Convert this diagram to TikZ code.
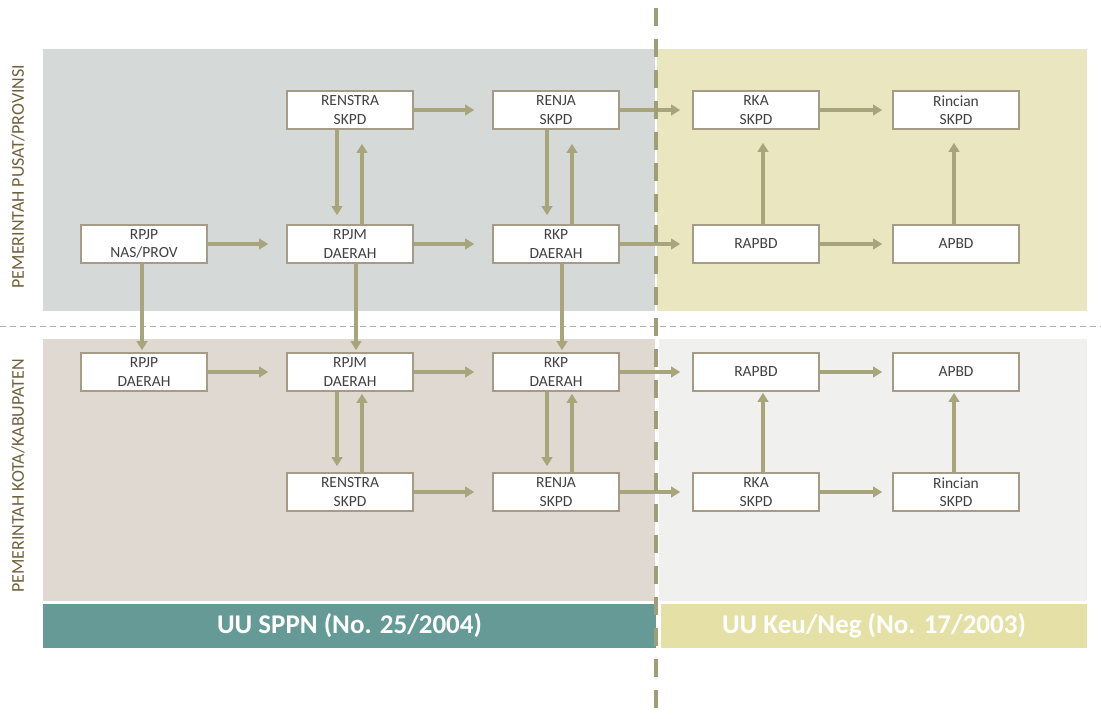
\documentclass[tikz,border=0pt]{standalone}
\usepackage{fontspec}
\setmainfont{Carlito}
\usetikzlibrary{arrows.meta}
\definecolor{panelTL}{RGB}{213,217,216}
\definecolor{panelTR}{RGB}{234,230,192}
\definecolor{panelBL}{RGB}{223,217,210}
\definecolor{panelBR}{RGB}{240,240,239}
\definecolor{barTeal}{RGB}{101,154,150}
\definecolor{barYel}{RGB}{229,225,166}
\definecolor{boxc}{RGB}{165,155,135}
\definecolor{arrc}{RGB}{168,165,125}
\definecolor{dashc}{RGB}{160,158,120}
\definecolor{txtc}{RGB}{65,65,65}
\definecolor{labc}{RGB}{112,96,60}
\definecolor{hdash}{RGB}{175,175,175}
\begin{document}
\begin{tikzpicture}[x=1pt,y=-1pt,
  box/.style={draw=boxc, line width=1.6pt, fill=white, minimum width=126pt, minimum height=38pt,
    inner sep=0pt, align=center, font=\fontsize{15.5}{18.5}\selectfont, text=txtc},
  arr/.style={draw=arrc, line width=3.2pt, -{Triangle[length=9pt,width=10.5pt]}},
  sidelab/.style={rotate=90, text=labc, font=\fontsize{18}{18}\selectfont},
  barlab/.style={text=white, font=\fontsize{27}{27}\selectfont\bfseries}]
\useasboundingbox (0,0) rectangle (1101,718);
% panels
\fill[panelTL] (43,49) rectangle (655,311);
\fill[panelTR] (657,49) rectangle (1087,311);
\fill[panelBL] (43,339) rectangle (655,601);
\fill[panelBR] (659,339) rectangle (1087,601);
\fill[barTeal] (43,604) rectangle (656,648);
\fill[barYel] (661,604) rectangle (1087,648);
\node[barlab] (bar1) at (349.5,626) {UU SPPN (No. 25/2004)};
\node[barlab] (bar2) at (874,626) {UU Keu/Neg (No. 17/2003)};
% horizontal dashed divider
\draw[hdash, line width=1pt, dash pattern=on 6pt off 4pt] (0,326) -- (1101,326);
% side labels
\node[sidelab] (labtop) at (18,176.5) {PEMERINTAH PUSAT/PROVINSI};
\node[sidelab] (labbot) at (18,476) {PEMERINTAH KOTA/KABUPATEN};
% top section boxes
\node[box] (renstraT) at (350,110) {RENSTRA\\SKPD};
\node[box] (renjaT) at (556,110) {RENJA\\SKPD};
\node[box] (rkaT) at (756,110) {RKA\\SKPD};
\node[box] (rincianT) at (956,110) {Rincian\\SKPD};
\node[box] (rpjpT) at (144,244) {RPJP\\NAS/PROV};
\node[box] (rpjmT) at (350,244) {RPJM\\DAERAH};
\node[box] (rkpT) at (556,244) {RKP\\DAERAH};
\node[box] (rapbdT) at (756,244) {RAPBD};
\node[box] (apbdT) at (956,244) {APBD};
% bottom section boxes
\node[box] (rpjpB) at (144,372) {RPJP\\DAERAH};
\node[box] (rpjmB) at (350,372) {RPJM\\DAERAH};
\node[box] (rkpB) at (556,372) {RKP\\DAERAH};
\node[box] (rapbdB) at (756,372) {RAPBD};
\node[box] (apbdB) at (956,372) {APBD};
\node[box] (renstraB) at (350,492) {RENSTRA\\SKPD};
\node[box] (renjaB) at (556,492) {RENJA\\SKPD};
\node[box] (rkaB) at (756,492) {RKA\\SKPD};
\node[box] (rincianB) at (956,492) {Rincian\\SKPD};
% top horizontal arrows
\draw[arr, shorten >=18pt] (renstraT) -- (renjaT);
\draw[arr, shorten >=12pt] (renjaT) -- (rkaT);
\draw[arr, shorten >=10pt] (rkaT) -- (rincianT);
\draw[arr, shorten >=18pt] (rpjpT) -- (rpjmT);
\draw[arr, shorten >=18pt] (rpjmT) -- (rkpT);
\draw[arr, shorten >=12pt] (rkpT) -- (rapbdT);
\draw[arr, shorten >=10pt] (rapbdT) -- (apbdT);
% top vertical arrows
\draw[arr, shorten >=9pt] ([xshift=-13pt]renstraT.south) -- ([xshift=-13pt]rpjmT.north);
\draw[arr, shorten >=14pt] ([xshift=12pt]rpjmT.north) -- ([xshift=12pt]renstraT.south);
\draw[arr, shorten >=9pt] ([xshift=-9pt]renjaT.south) -- ([xshift=-9pt]rkpT.north);
\draw[arr, shorten >=14pt] ([xshift=16pt]rkpT.north) -- ([xshift=16pt]renjaT.south);
\draw[arr, shorten >=13pt] ([xshift=7pt]rapbdT.north) -- ([xshift=7pt]rkaT.south);
\draw[arr, shorten >=13pt] ([xshift=-2pt]apbdT.north) -- ([xshift=-2pt]rincianT.south);
% cross-level arrows
\draw[arr, shorten >=2pt] ([xshift=-2pt]rpjpT.south) -- ([xshift=-2pt]rpjpB.north);
\draw[arr, shorten >=2pt] ([xshift=6pt]rpjmT.south) -- ([xshift=6pt]rpjmB.north);
\draw[arr, shorten >=2pt] ([xshift=6pt]rkpT.south) -- ([xshift=6pt]rkpB.north);
% bottom horizontal arrows
\draw[arr, shorten >=18pt] (rpjpB) -- (rpjmB);
\draw[arr, shorten >=18pt] (rpjmB) -- (rkpB);
\draw[arr, shorten >=12pt] (rkpB) -- (rapbdB);
\draw[arr, shorten >=10pt] (rapbdB) -- (apbdB);
\draw[arr, shorten >=18pt] (renstraB) -- (renjaB);
\draw[arr, shorten >=12pt] (renjaB) -- (rkaB);
\draw[arr, shorten >=10pt] (rkaB) -- (rincianB);
% bottom vertical arrows
\draw[arr, shorten >=6pt] ([xshift=-13pt]rpjmB.south) -- ([xshift=-13pt]renstraB.north);
\draw[arr, shorten >=2pt] ([xshift=12pt]renstraB.north) -- ([xshift=12pt]rpjmB.south);
\draw[arr, shorten >=6pt] ([xshift=-9pt]rkpB.south) -- ([xshift=-9pt]renjaB.north);
\draw[arr, shorten >=2pt] ([xshift=16pt]renjaB.north) -- ([xshift=16pt]rkpB.south);
\draw[arr, shorten >=1pt] ([xshift=7pt]rkaB.north) -- ([xshift=7pt]rapbdB.south);
\draw[arr, shorten >=1pt] ([xshift=-2pt]rincianB.north) -- ([xshift=-2pt]apbdB.south);
% vertical dashed divider
\coordinate (vtop) at (656,8);
\coordinate (vbot) at (656,718);
\draw[dashc, line width=4pt, dash pattern=on 18pt off 13pt] (vtop) -- (vbot);
\end{tikzpicture}
\end{document}
